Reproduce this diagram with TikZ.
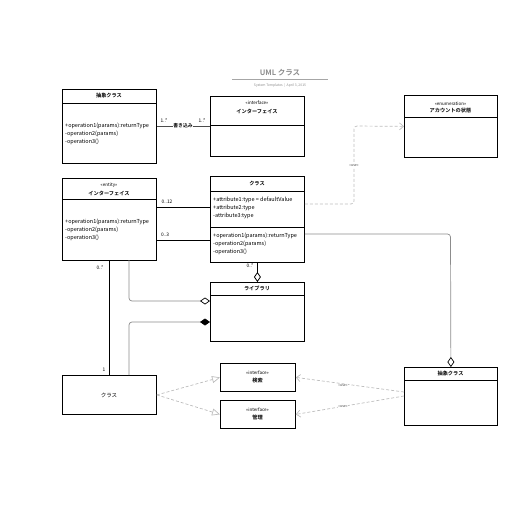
\documentclass[tikz,border=0pt]{standalone}
\usepackage{fontspec}
\setmainfont{Noto Sans CJK JP}[BoldFont={Noto Sans CJK JP Bold}]
\usetikzlibrary{arrows.meta,calc}
\definecolor{conngray}{HTML}{8C8C8C}
\definecolor{dashgray}{HTML}{BDBDBD}
\tikzset{
  box/.style={draw=black, line width=0.8pt, anchor=north west, inner sep=0pt},
  divider/.style={draw=black, line width=0.8pt},
  ttl/.style={font=\bfseries\fontsize{5.2}{6}\selectfont, inner sep=0pt},
  stereo/.style={font=\fontsize{4.5}{5}\selectfont, inner sep=0pt},
  mem/.style={font=\fontsize{5.5}{6}\selectfont, anchor=west, inner sep=0pt},
  mult/.style={font=\fontsize{4.8}{5}\selectfont, inner sep=0pt},
  usel/.style={font=\fontsize{3.6}{4}\selectfont, inner sep=0.5pt, fill=white, text=black!70},
  assoc/.style={draw=black, line width=0.8pt},
  gline/.style={draw=conngray, line width=0.7pt, rounded corners=3pt},
  dline/.style={draw=dashgray, line width=0.7pt, dash pattern=on 3pt off 2pt},
  odiam/.style={-{Diamond[open,length=10pt,width=7pt,fill=white,color=black]}},
  fdiam/.style={-{Diamond[length=10pt,width=7pt,color=black,fill=black]}},
  otri/.style={-{Triangle[open,length=8pt,width=7pt,fill=white]}},
  oarr/.style={-{Straight Barb[length=4pt,width=7pt]}},
}
\begin{document}
\begin{tikzpicture}[x=1pt,y=-1pt]
\useasboundingbox (0,0) rectangle (516,516);
% title
\node[font=\bfseries\fontsize{7.5}{8}\selectfont, text=black!45, inner sep=0pt] (title) at (280,73) {UML クラス};
\draw[black!35, line width=0.6pt] (232,79.5) -- (328,79.5);
\node[font=\fontsize{3.4}{4}\selectfont, text=black!45, inner sep=0pt] (sub) at (280,85.5) {System Templates \ | \ April 3, 2015};

% Box A
\node[box, minimum width=94pt, minimum height=74pt] (A) at (62,89) {};
\draw[divider] (62,103) -- (156,103);
\node[ttl] (At) at (109,96) {抽象クラス};
\node[mem] (A1) at (65,126) {+operation1(params):returnType};
\node[mem] (A2) at (65,134) {-operation2(params)};
\node[mem] (A3) at (65,142) {-operation3()};

% Box B
\node[box, minimum width=94pt, minimum height=60pt] (B) at (210,96) {};
\draw[divider] (210,125) -- (304,125);
\node[stereo] (Bs) at (257,103) {«interface»};
\node[ttl] (Bt) at (257,111) {インターフェイス};

% Box C
\node[box, minimum width=93pt, minimum height=62pt] (C) at (404,95) {};
\draw[divider] (404,117) -- (497,117);
\node[stereo] (Cs) at (450.5,103.5) {«enumeration»};
\node[ttl] (Ct) at (450.5,111) {アカウントの状態};

% Box D
\node[box, minimum width=94pt, minimum height=82pt] (D) at (62,178) {};
\draw[divider] (62,199) -- (156,199);
\node[stereo] (Ds) at (109,185) {«entity»};
\node[ttl] (Dt) at (109,193) {インターフェイス};
\node[mem] (D1) at (65,222) {+operation1(params):returnType};
\node[mem] (D2) at (65,230) {-operation2(params)};
\node[mem] (D3) at (65,238) {-operation3()};

% Box E
\node[box, minimum width=94pt, minimum height=86pt] (E) at (210,176) {};
\draw[divider] (210,191) -- (304,191);
\draw[divider] (210,227) -- (304,227);
\node[ttl] (Et) at (257,183.5) {クラス};
\node[mem] (E1) at (213,200) {+attribute1:type = defaultValue};
\node[mem] (E2) at (213,208) {+attribute2:type};
\node[mem] (E3) at (213,216) {-attribute3:type};
\node[mem] (E4) at (213,236) {+operation1(params):returnType};
\node[mem] (E5) at (213,244) {-operation2(params)};
\node[mem] (E6) at (213,252) {-operation3()};

% Box F
\node[box, minimum width=94pt, minimum height=59pt] (F) at (210,282) {};
\draw[divider] (210,295) -- (304,295);
\node[ttl] (Ft) at (257,288.5) {ライブラリ};

% Box G
\node[box, minimum width=94pt, minimum height=39pt] (G) at (62,375) {};
\node[font=\fontsize{5.5}{6}\selectfont, inner sep=0pt] (Gt) at (109,395) {クラス};

% Box H
\node[box, minimum width=75pt, minimum height=28pt] (H) at (220,363) {};
\node[stereo] (Hs) at (257.5,373) {«interface»};
\node[ttl] (Ht) at (257.5,381) {検索};

% Box I
\node[box, minimum width=75pt, minimum height=28pt] (I) at (220,400) {};
\node[stereo] (Is) at (257.5,410) {«interface»};
\node[ttl] (It) at (257.5,418) {管理};

% Box J
\node[box, minimum width=93pt, minimum height=58pt] (J) at (404,367) {};
\draw[divider] (404,380) -- (497,380);
\node[ttl] (Jt) at (450.5,373.5) {抽象クラス};

% A - B association
\draw[assoc, draw=black!70] (A.east) -- (B.west);
\node[usel, fill=white, text=black, font=\bfseries\fontsize{4.8}{5}\selectfont] (wl) at (183,126) {書き込み};
\node[mult] (m1) at (164,121) {1..*};
\node[mult] (m2) at (202,121) {1..*};

% D - E associations
\draw[assoc] (D.east |- 0,207) -- (E.west |- 0,207);
\node[mult] (m3) at (167,201.5) {0..12};
\node[mult] (m4) at (165,234.5) {0..3};
\draw[assoc] (D.east |- 0,240) -- (E.west |- 0,240);

% E -> C dependency
\draw[dline, oarr, rounded corners=3pt] (E.east |- 0,204) -- (354,204) -- (354,126) -- (C.west);
\node[usel] (u1) at (354,166) {«use»};

% E -> J aggregation
\draw[gline, odiam] (E.east |- 0,234) -- (450.5,234) -- (J.north);

% E -> F aggregation
\draw[assoc, odiam] (E.south) -- (F.north);
\node[mult] (m5) at (250,266) {0..*};

% D -> F aggregation
\draw[gline, odiam] (129,260) -- (129,301) -- (F.west |- 0,301);
% F -> G composition
\draw[gline, fdiam] (G.north -| 129,0) -- (129,322) -- (F.west |- 0,322);

% D - G association
\draw[assoc] (D.south) -- (G.north);
\node[mult] (m6) at (100,268) {0..*};
\node[mult] (m7) at (104,370) {1};

% G -> H, I realization
\draw[dline, otri] (G.east) -- (H.west);
\draw[dline, otri] (G.east) -- (I.west);

% J -> H, I dependency
\draw[dline, oarr] (J.west |- 0,392) -- (H.east);
\node[usel] (u2) at (343,385.5) {«use»};
\draw[dline, oarr] (J.west |- 0,396) -- (I.east);
\node[usel] (u3) at (343,406.5) {«use»};
\end{tikzpicture}
\end{document}
